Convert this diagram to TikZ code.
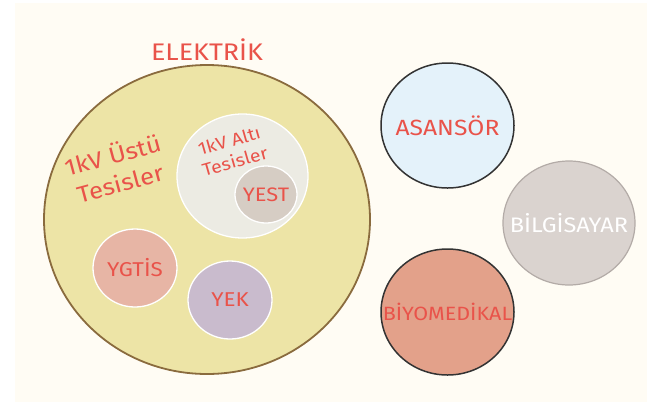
\documentclass[tikz,border=0pt]{standalone}
\usepackage{fontspec}
\setmainfont{Fira Sans}[FakeStretch=1.12]
\usetikzlibrary{shapes.geometric}
\definecolor{bgcream}{HTML}{FFFCF4}
\definecolor{txtred}{HTML}{E9534A}
\definecolor{elfill}{HTML}{EDE4A6}
\definecolor{eledge}{HTML}{8A6B3E}
\definecolor{altfill}{HTML}{ECEBE3}
\definecolor{yestfill}{HTML}{D6CDC4}
\definecolor{ygtfill}{HTML}{E7B5A5}
\definecolor{yekfill}{HTML}{C9BBCD}
\definecolor{asfill}{HTML}{E4F2FA}
\definecolor{bilfill}{HTML}{DAD3CF}
\definecolor{biledge}{HTML}{B3ABA7}
\definecolor{biofill}{HTML}{E3A18A}
\definecolor{darkedge}{HTML}{333333}
\tikzset{
  blob/.style={ellipse, inner sep=0pt},
  inner/.style={draw=white, line width=1.3pt},
  outer/.style={draw=darkedge, line width=1.5pt},
  lbl/.style={text=txtred, align=center, inner sep=0pt, font=\fontsize{#1}{#1}\selectfont},
  lbl/.default=20
}
\begin{document}
\begin{tikzpicture}[x=1pt,y=-1pt]
\useasboundingbox (0,0) rectangle (653,408);
\fill[white] (0,0) rectangle (653,408);
\fill[bgcream] (15,3) rectangle (647,402);
% big circle
\node[blob, draw=eledge, line width=1.8pt, fill=elfill, minimum width=326pt, minimum height=309pt] (elek) at (207,219.5) {};
\node[lbl=24] (elekt) at (207,50) {ELEKTRİK};
\node[lbl, rotate=15, font=\fontsize{23}{29}\selectfont] (ustu) at (116,168) {1kV Üstü\\Tesisler};
% 1kV alti
\node[blob, inner, fill=altfill, minimum width=131pt, minimum height=124pt] (alti) at (242.5,176) {};
\node[lbl, rotate=16, font=\fontsize{17.5}{21}\selectfont] (altit) at (232,151) {1kV Altı\\Tesisler};
\node[blob, inner, fill=yestfill, minimum width=62pt, minimum height=57pt] (yest) at (266,194.5) {};
\node[lbl=19.5] at (yest.center) {YEST};
\node[blob, inner, fill=ygtfill, minimum width=84pt, minimum height=78pt] (ygtis) at (135,268) {};
\node[lbl=20] at (ygtis.center) {YGTİS};
\node[blob, inner, fill=yekfill, minimum width=84pt, minimum height=78pt] (yek) at (230,300) {};
\node[lbl=20] at (yek.center) {YEK};
% right circles
\node[blob, outer, fill=asfill, minimum width=133pt, minimum height=125pt] (asan) at (447.5,125.5) {};
\node[lbl=22] at (asan.center) {ASANSÖR};
\node[blob, draw=biledge, line width=1.2pt, fill=bilfill, minimum width=132pt, minimum height=124pt] (bilg) at (569,223) {};
\node[lbl=21, text=white] at (bilg.center) {BİLGİSAYAR};
\node[blob, outer, fill=biofill, minimum width=133pt, minimum height=126pt] (bio) at (447.5,312) {};
\node[lbl=19.2] at (bio.center) {BİYOMEDİKAL};
\end{tikzpicture}
\end{document}
